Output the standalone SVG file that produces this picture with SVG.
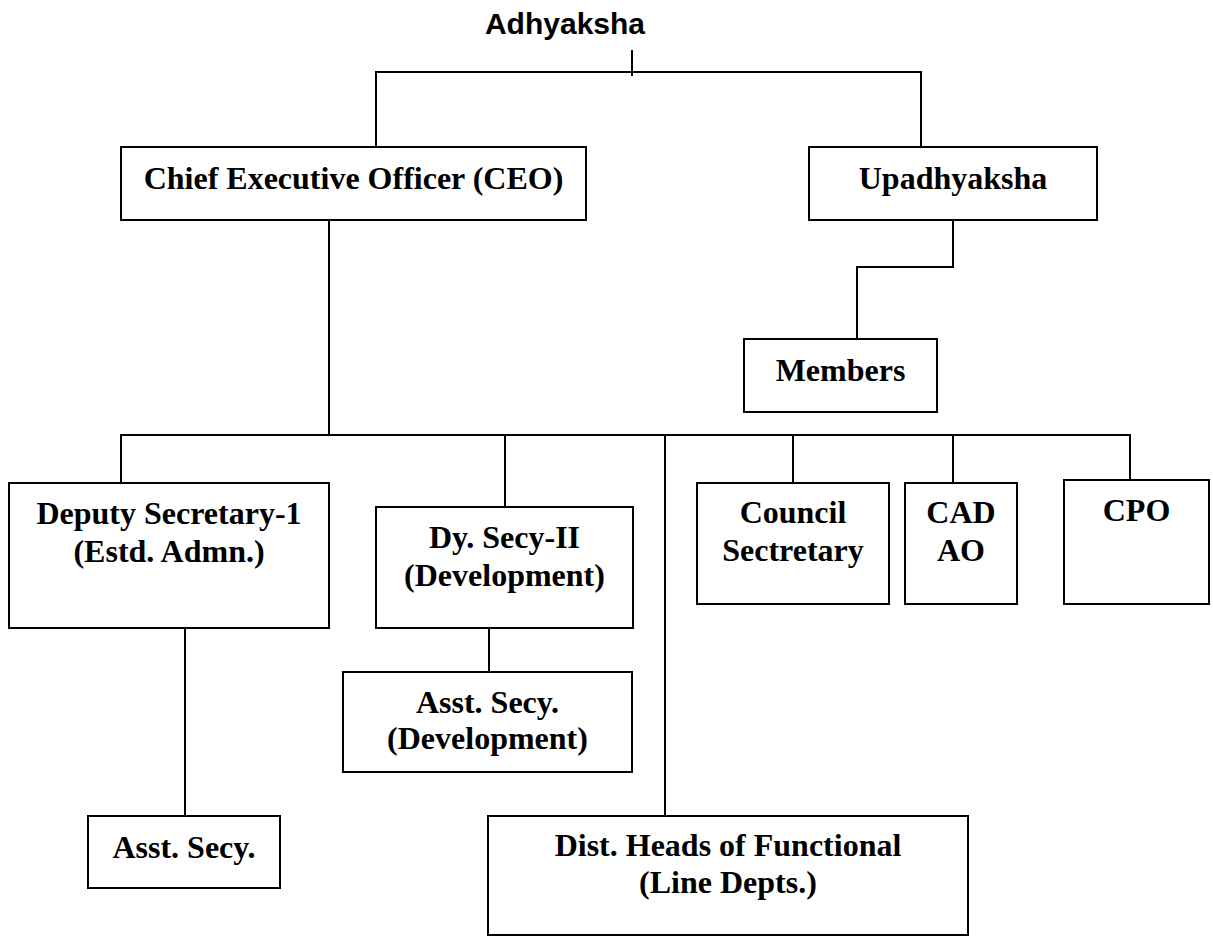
<svg xmlns="http://www.w3.org/2000/svg" width="1213" height="937" viewBox="0 0 1213 937">
<style>
  .box { fill: #ffffff; stroke: #000000; stroke-width: 2; }
  .lbl { font-family: "Liberation Serif", "Times New Roman", serif; font-weight: bold; font-size: 32px; fill: #000000; text-anchor: middle; }
  .title { font-family: "Liberation Sans", Arial, sans-serif; font-weight: bold; font-size: 30px; fill: #000000; text-anchor: middle; }
  .conn { fill: none; stroke: #000000; stroke-width: 2; }
</style>
<rect x="0" y="0" width="1213" height="937" fill="#ffffff"/>
<g id="connectors">
  <path class="conn" d="M632,50 V76"/>
  <path class="conn" d="M376,147 V72 H921 V147"/>
  <path class="conn" d="M329,220 V435"/>
  <path class="conn" d="M121,483 V435 H1130 V480"/>
  <path class="conn" d="M505,435 V507"/>
  <path class="conn" d="M665,435 V816"/>
  <path class="conn" d="M793,435 V483"/>
  <path class="conn" d="M953,435 V483"/>
  <path class="conn" d="M953,220 V267 H857 V339"/>
  <path class="conn" d="M185,628 V816"/>
  <path class="conn" d="M489,628 V672"/>
</g>
<g id="adhyaksha">
  <text class="title" x="565" y="34">Adhyaksha</text>
</g>
<g id="ceo">
  <rect class="box" x="121" y="147" width="465" height="73"/>
  <text class="lbl" x="353.5" y="189">Chief Executive Officer (CEO)</text>
</g>
<g id="upadhyaksha">
  <rect class="box" x="809" y="147" width="288" height="73"/>
  <text class="lbl" x="953" y="189">Upadhyaksha</text>
</g>
<g id="members">
  <rect class="box" x="744" y="339" width="193" height="73"/>
  <text class="lbl" x="840.5" y="381">Members</text>
</g>
<g id="deputy-secretary-1">
  <rect class="box" x="9" y="483" width="320" height="145"/>
  <text class="lbl" x="169" y="524">Deputy Secretary-1</text>
  <text class="lbl" x="169" y="562">(Estd. Admn.)</text>
</g>
<g id="dy-secy-2">
  <rect class="box" x="376" y="507" width="257" height="121"/>
  <text class="lbl" x="504.5" y="548">Dy. Secy-II</text>
  <text class="lbl" x="504.5" y="586">(Development)</text>
</g>
<g id="council-secretary">
  <rect class="box" x="697" y="483" width="192" height="121"/>
  <text class="lbl" x="793" y="523">Council</text>
  <text class="lbl" x="793" y="561">Sectretary</text>
</g>
<g id="cad-ao">
  <rect class="box" x="905" y="483" width="112" height="121"/>
  <text class="lbl" x="961" y="523">CAD</text>
  <text class="lbl" x="961" y="561">AO</text>
</g>
<g id="cpo">
  <rect class="box" x="1064" y="480" width="145" height="124"/>
  <text class="lbl" x="1136.5" y="521">CPO</text>
</g>
<g id="asst-secy-development">
  <rect class="box" x="343" y="672" width="289" height="100"/>
  <text class="lbl" x="487.5" y="713">Asst. Secy.</text>
  <text class="lbl" x="487.5" y="749">(Development)</text>
</g>
<g id="asst-secy">
  <rect class="box" x="88" y="816" width="192" height="72"/>
  <text class="lbl" x="184" y="858">Asst. Secy.</text>
</g>
<g id="dist-heads">
  <rect class="box" x="488" y="816" width="480" height="119"/>
  <text class="lbl" x="728" y="856">Dist. Heads of Functional</text>
  <text class="lbl" x="728" y="893">(Line Depts.)</text>
</g>
</svg>
